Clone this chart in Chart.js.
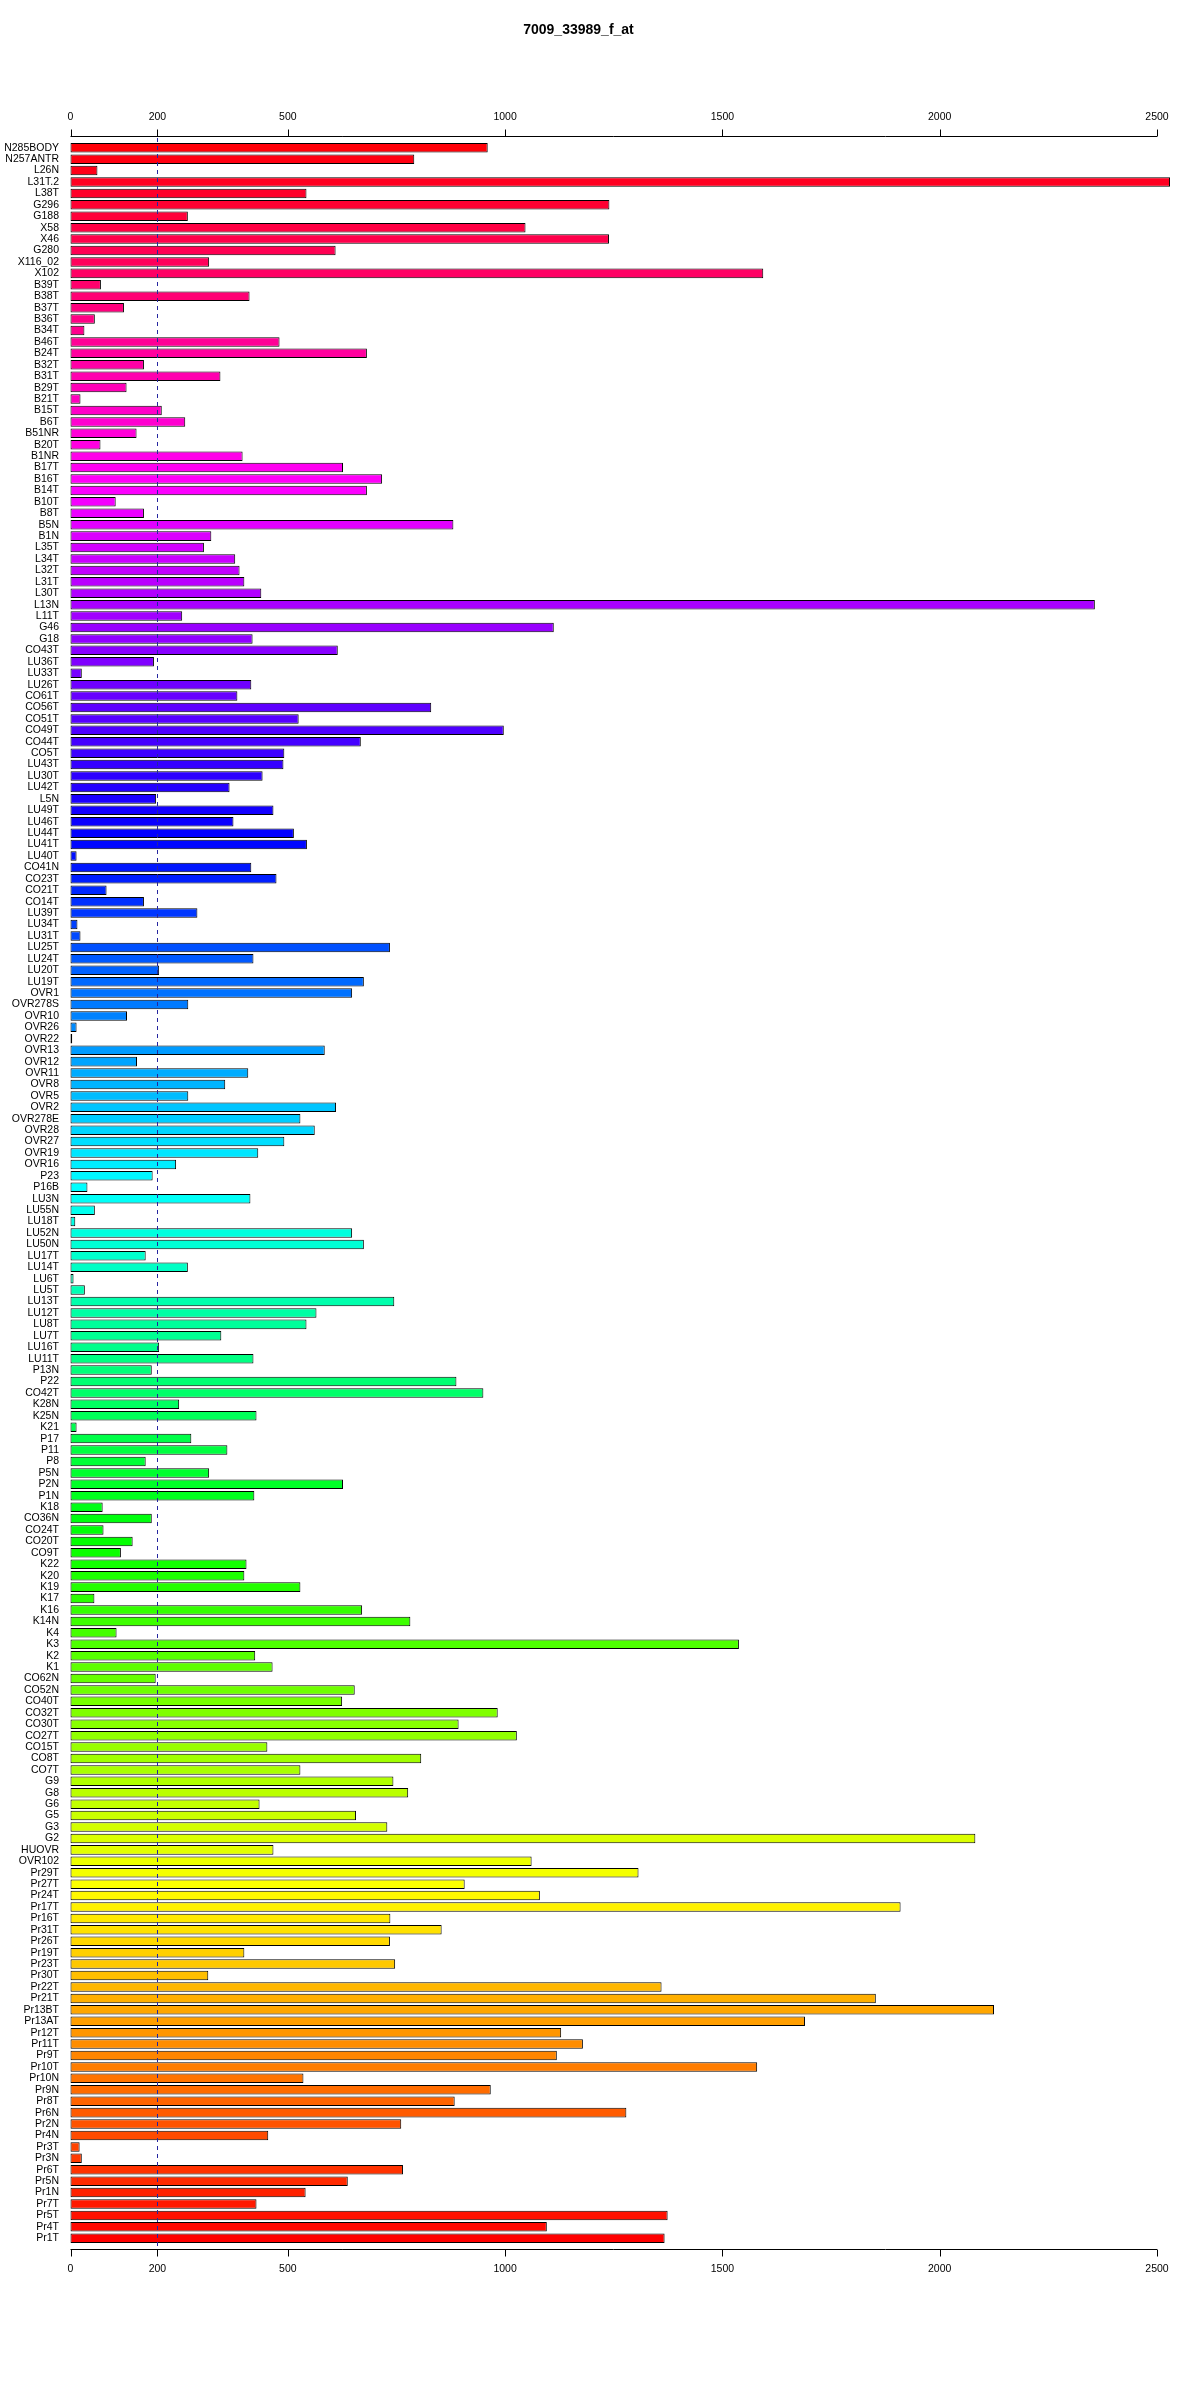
<!DOCTYPE html>
<html>
<head>
<meta charset="utf-8">
<title>7009_33989_f_at</title>
<script src="https://cdn.jsdelivr.net/npm/chart.js@4.4.0/dist/chart.umd.min.js"></script>
<style>
  html, body { margin: 0; padding: 0; background: #fff; }
  #wrap { width: 1200px; height: 2400px; position: relative; }
</style>
</head>
<body>
<div id="wrap"><canvas id="chart"></canvas></div>
<script>
// sample names, top to bottom
var samples = [
  'N285BODY', 'N257ANTR', 'L26N', 'L31T.2', 'L38T', 'G296', 'G188', 'X58', 'X46', 'G280', 'X116_02', 'X102',
  'B39T', 'B38T', 'B37T', 'B36T', 'B34T', 'B46T', 'B24T', 'B32T', 'B31T', 'B29T', 'B21T', 'B15T', 'B6T', 'B51NR', 'B20T', 'B1NR',
  'B17T', 'B16T', 'B14T', 'B10T', 'B8T', 'B5N', 'B1N', 'L35T', 'L34T', 'L32T', 'L31T', 'L30T', 'L13N', 'L11T', 'G46', 'G18',
  'CO43T', 'LU36T', 'LU33T', 'LU26T', 'CO61T', 'CO56T', 'CO51T', 'CO49T', 'CO44T', 'CO5T', 'LU43T', 'LU30T', 'LU42T', 'L5N', 'LU49T', 'LU46T',
  'LU44T', 'LU41T', 'LU40T', 'CO41N', 'CO23T', 'CO21T', 'CO14T', 'LU39T', 'LU34T', 'LU31T', 'LU25T', 'LU24T', 'LU20T', 'LU19T', 'OVR1',
  'OVR278S', 'OVR10', 'OVR26', 'OVR22', 'OVR13', 'OVR12', 'OVR11', 'OVR8', 'OVR5', 'OVR2', 'OVR278E', 'OVR28', 'OVR27', 'OVR19', 'OVR16', 'P23',
  'P16B', 'LU3N', 'LU55N', 'LU18T', 'LU52N', 'LU50N', 'LU17T', 'LU14T', 'LU6T', 'LU5T', 'LU13T', 'LU12T', 'LU8T', 'LU7T', 'LU16T', 'LU11T',
  'P13N', 'P22', 'CO42T', 'K28N', 'K25N', 'K21', 'P17', 'P11', 'P8', 'P5N', 'P2N', 'P1N', 'K18', 'CO36N', 'CO24T', 'CO20T',
  'CO9T', 'K22', 'K20', 'K19', 'K17', 'K16', 'K14N', 'K4', 'K3', 'K2', 'K1', 'CO62N', 'CO52N', 'CO40T', 'CO32T',
  'CO30T', 'CO27T', 'CO15T', 'CO8T', 'CO7T', 'G9', 'G8', 'G6', 'G5', 'G3', 'G2', 'HUOVR', 'OVR102', 'Pr29T', 'Pr27T', 'Pr24T',
  'Pr17T', 'Pr16T', 'Pr31T', 'Pr26T', 'Pr19T', 'Pr23T', 'Pr30T', 'Pr22T', 'Pr21T', 'Pr13BT', 'Pr13AT', 'Pr12T', 'Pr11T', 'Pr9T', 'Pr10T', 'Pr10N',
  'Pr9N', 'Pr8T', 'Pr6N', 'Pr2N', 'Pr4N', 'Pr3T', 'Pr3N', 'Pr6T', 'Pr5N', 'Pr1N', 'Pr7T', 'Pr5T', 'Pr4T', 'Pr1T'
];

var expression = [
  960, 791, 62, 2530, 543, 1240, 270, 1047, 1239, 610, 319, 1594,
  70, 412, 123, 56, 32, 481, 682, 169, 345, 129, 23, 210, 264, 152, 69, 396,
  627, 717, 682, 104, 169, 881, 324, 307, 379, 389, 400, 439, 2357, 257, 1112, 419,
  615, 192, 26, 416, 384, 830, 525, 997, 668, 492, 490, 442, 366, 197, 467, 375,
  514, 544, 14, 416, 474, 83, 169, 292, 16, 23, 735, 421, 204, 675, 648,
  271, 130, 14, 4, 585, 153, 409, 356, 271, 611, 529, 562, 492, 432, 243, 189,
  39, 414, 56, 11, 648, 675, 173, 270, 7, 33, 745, 566, 543, 347, 204, 421,
  187, 888, 950, 250, 428, 14, 278, 361, 173, 319, 627, 423, 74, 187, 76, 143,
  116, 405, 400, 529, 55, 671, 782, 106, 1538, 425, 465, 196, 654, 625, 983,
  893, 1027, 453, 807, 529, 743, 777, 435, 657, 729, 2082, 467, 1061, 1307, 907, 1080,
  1910, 736, 854, 735, 400, 747, 317, 1360, 1853, 2125, 1690, 1129, 1179, 1119, 1580, 536,
  967, 884, 1279, 761, 455, 21, 26, 765, 638, 541, 428, 1374, 1096, 1367
];

var tickValues = [0, 200, 500, 1000, 1500, 2000, 2500];
var cutoff = 200;

(function() {
  var fontFamily = '"Liberation Sans", Arial, Helvetica, sans-serif';
  var n = samples.length;

  // rainbow, red at the bottom going round to red at the top
  var colors = samples.map(function(s, i) {
    return 'hsl(' + ((n - 1 - i) / n * 360).toFixed(2) + ',100%,50%)';
  });

  function setTicks(scale) {
    scale.ticks = tickValues.map(function(v) { return { value: v }; });
  }

  function xAxis(pos, h) {
    return {
      type: 'linear',
      position: pos,
      min: tickValues[0],
      max: tickValues[tickValues.length - 1],
      afterBuildTicks: setTicks,
      afterFit: function(s) { s.height = h; },
      grid: { display: false, drawTicks: false },
      border: { display: false },
      ticks: {
        padding: 19,
        autoSkip: false,
        maxRotation: 0,
        color: '#000',
        font: { family: fontFamily, size: 10.5 },
        callback: function(v) { return String(v); }
      }
    };
  }

  // axis lines with outward ticks, plus the dashed cutoff line
  var axisLines = {
    id: 'axisLines',
    afterDatasetsDraw: function(chart) {
      var ctx = chart.ctx, a = chart.chartArea, xs = chart.scales.x;
      var x0 = xs.getPixelForValue(tickValues[0]);
      var x1 = xs.getPixelForValue(tickValues[tickValues.length - 1]);
      ctx.save();
      ctx.lineWidth = 1;
      var xc = Math.round(xs.getPixelForValue(cutoff)) + 0.5;
      ctx.strokeStyle = '#2626a0';
      ctx.setLineDash([4, 4]);
      ctx.beginPath();
      ctx.moveTo(xc, a.top - 12);
      ctx.lineTo(xc, a.bottom + 12);
      ctx.stroke();
      ctx.setLineDash([]);
      ctx.strokeStyle = '#000';
      [[a.top - 6, -7], [a.bottom + 5, 7]].forEach(function(p) {
        var y = Math.round(p[0]) + 0.5;
        ctx.beginPath();
        ctx.moveTo(x0, y);
        ctx.lineTo(x1, y);
        tickValues.forEach(function(v) {
          var x = Math.round(xs.getPixelForValue(v)) + 0.5;
          ctx.moveTo(x, y);
          ctx.lineTo(x, y + p[1]);
        });
        ctx.stroke();
      });
      ctx.restore();
    }
  };

  new Chart(document.getElementById('chart'), {
    type: 'bar',
    data: {
      labels: samples,
      datasets: [{
        data: expression,
        backgroundColor: colors,
        borderColor: '#000',
        borderWidth: 1,
        borderSkipped: false,
        barPercentage: 1 / 1.2,
        categoryPercentage: 1,
        clip: false,
        xAxisID: 'x'
      }]
    },
    options: {
      indexAxis: 'y',
      responsive: true,
      maintainAspectRatio: false,
      animation: false,
      layout: { padding: { left: 0, right: 43, top: 0, bottom: 0 } },
      plugins: {
        legend: { display: false },
        tooltip: { enabled: false },
        title: {
          display: true,
          text: '7009_33989_f_at',
          color: '#000',
          font: { family: fontFamily, size: 14, weight: 'bold' },
          padding: { top: 22, bottom: 0 }
        }
      },
      scales: {
        x: xAxis('bottom', 156),
        x2: xAxis('top', 103.2),
        y: {
          type: 'category',
          offset: true,
          afterFit: function(s) { s.width = 70.5; },
          grid: { display: false, drawTicks: false },
          border: { display: false },
          ticks: {
            autoSkip: false,
            padding: 11.5,
            color: '#000',
            font: { family: fontFamily, size: 10.5 }
          }
        }
      }
    },
    plugins: [axisLines]
  });
})();
</script>
</body>
</html>
